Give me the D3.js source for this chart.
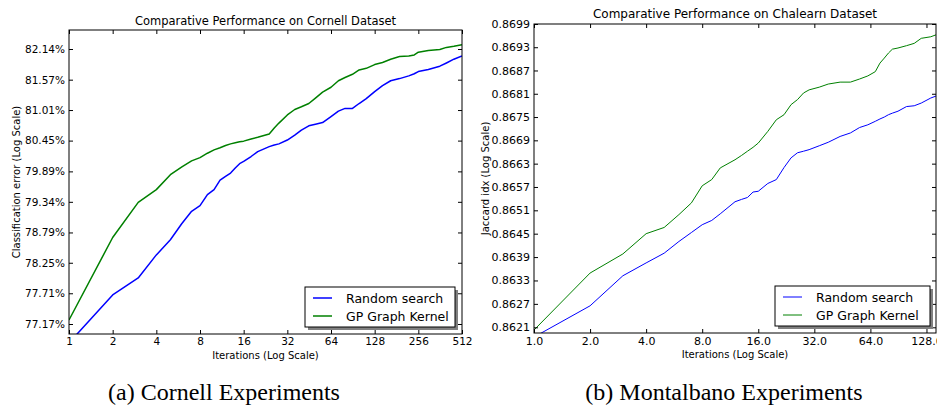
<!DOCTYPE html>
<html>
<head>
<meta charset="utf-8">
<script src="https://cdn.jsdelivr.net/npm/d3@7"></script>
<style>
body { margin: 0; background: #fff; }
svg text { font-family: "DejaVu Sans", sans-serif; fill: #000; }
.caption { font-family: "Liberation Serif", serif; }
</style>
</head>
<body>
<svg id="chart" width="937" height="406"></svg>
<script>
// ---- Cornell panel data (iterations, classification error %) ----
const cornellIters = [1, 2, 3, 4, 5, 6, 7, 8, 9, 10, 11, 12, 13, 14, 15, 16, 18, 20, 24, 26, 28, 32, 36, 40, 45, 50, 56, 64, 72, 80, 90, 100, 112, 128, 145, 165, 190, 220, 240, 256, 300, 360, 400, 450, 512];
const cornellRandom = [76.84, 77.68, 77.98, 78.39, 78.66, 78.95, 79.17, 79.27, 79.47, 79.56, 79.73, 79.80, 79.86, 79.95, 80.03, 80.07, 80.16, 80.25, 80.34, 80.37, 80.39, 80.46, 80.55, 80.64, 80.72, 80.75, 80.78, 80.89, 80.99, 81.04, 81.04, 81.13, 81.22, 81.35, 81.46, 81.55, 81.59, 81.64, 81.68, 81.72, 81.76, 81.82, 81.88, 81.95, 82.01];
const cornellGP = [77.24, 78.70, 79.33, 79.56, 79.83, 79.97, 80.08, 80.14, 80.22, 80.28, 80.32, 80.36, 80.39, 80.41, 80.43, 80.44, 80.48, 80.51, 80.57, 80.68, 80.77, 80.92, 81.02, 81.07, 81.13, 81.23, 81.34, 81.43, 81.55, 81.61, 81.67, 81.75, 81.78, 81.85, 81.89, 81.95, 82.00, 82.01, 82.03, 82.08, 82.11, 82.13, 82.17, 82.19, 82.22];
const cornellYTicks = [77.17, 77.71, 78.25, 78.79, 79.34, 79.89, 80.45, 81.01, 81.57, 82.14];
const cornellXTicks = [1, 2, 4, 8, 16, 32, 64, 128, 256, 512];

// ---- Chalearn panel data (iterations, Jaccard index) ----
const chalearnIters = [1, 2, 3, 4, 5, 6, 7, 8, 9, 10, 12, 13, 14, 15, 16, 18, 20, 22, 24, 26, 28, 30, 34, 38, 44, 50, 56, 62, 68, 72, 76, 80, 84, 90, 100, 110, 120, 135, 144];
const chalearnRandom = [0.86185, 0.86265, 0.86342, 0.86375, 0.86400, 0.86430, 0.86453, 0.86473, 0.86484, 0.86501, 0.86532, 0.86538, 0.86543, 0.86557, 0.86559, 0.86579, 0.86589, 0.86620, 0.86645, 0.86658, 0.86662, 0.86666, 0.86676, 0.86685, 0.86700, 0.86709, 0.86723, 0.86730, 0.86739, 0.86745, 0.86750, 0.86756, 0.86760, 0.86765, 0.86777, 0.86779, 0.86786, 0.86799, 0.86804];
const chalearnGP = [0.86203, 0.86349, 0.86398, 0.86450, 0.86466, 0.86499, 0.86529, 0.86573, 0.86589, 0.86619, 0.86640, 0.86651, 0.86662, 0.86672, 0.86683, 0.86713, 0.86743, 0.86756, 0.86782, 0.86795, 0.86812, 0.86820, 0.86827, 0.86835, 0.86840, 0.86840, 0.86848, 0.86856, 0.86867, 0.86889, 0.86902, 0.86915, 0.86925, 0.86928, 0.86934, 0.86940, 0.86953, 0.86957, 0.86962];
const chalearnYTicks = [0.8621, 0.8627, 0.8633, 0.8639, 0.8645, 0.8651, 0.8657, 0.8663, 0.8669, 0.8675, 0.8681, 0.8687, 0.8693, 0.8699];
const chalearnXTicks = [1, 2, 4, 8, 16, 32, 64, 128];

const seriesNames = ['Random search', 'GP Graph Kernel'];
const seriesColors = ['#0000ff', '#008000'];

const svg = d3.select('#chart');

// draws one subplot
function drawPanel(o) {
    const g = svg.append('g');

    const x = d3.scaleLog().base(2).domain(o.xDomain).range([o.left, o.right]);
    const y = d3.scaleLog().domain(o.yDomain).range(o.yRange);

    const clipId = 'clip-' + o.id;
    svg.append('clipPath').attr('id', clipId)
        .append('rect')
        .attr('x', o.left).attr('y', o.top)
        .attr('width', o.right - o.left).attr('height', o.bottom - o.top);

    // lines
    const line = d3.line()
        .x((d, i) => x(o.iters[i]))
        .y(d => y(d));

    o.series.forEach((s, i) => {
        g.append('path')
            .datum(s)
            .attr('clip-path', `url(#${clipId})`)
            .attr('fill', 'none')
            .attr('stroke', seriesColors[i])
            .attr('stroke-width', o.lineWidth)
            .attr('stroke-linejoin', 'round')
            .attr('d', line);
    });

    // axes with inward ticks on all four sides
    const bottomAxis = d3.axisBottom(x).tickValues(o.xTicks)
        .tickFormat(o.xFormat).tickSizeInner(-4).tickSizeOuter(0).tickPadding(4);
    const topAxis = d3.axisTop(x).tickValues(o.xTicks)
        .tickFormat('').tickSizeInner(-4).tickSizeOuter(0);
    const leftAxis = d3.axisLeft(y).tickValues(o.yTicks)
        .tickFormat(o.yFormat).tickSizeInner(-4).tickSizeOuter(0).tickPadding(4);
    const rightAxis = d3.axisRight(y).tickValues(o.yTicks)
        .tickFormat('').tickSizeInner(-4).tickSizeOuter(0);

    const axes = [
        [bottomAxis, `translate(0,${o.bottom})`],
        [topAxis, `translate(0,${o.top})`],
        [leftAxis, `translate(${o.left},0)`],
        [rightAxis, `translate(${o.right},0)`]
    ];
    axes.forEach(([ax, tr]) => {
        const a = g.append('g').attr('transform', tr).call(ax);
        a.select('.domain').remove();
        a.selectAll('line').attr('stroke', '#000');
        a.selectAll('text').attr('font-family', '"DejaVu Sans", sans-serif')
            .attr('font-size', o.tickFont).attr('fill', '#000');
    });

    // frame
    g.append('rect')
        .attr('x', o.left).attr('y', o.top)
        .attr('width', o.right - o.left).attr('height', o.bottom - o.top)
        .attr('fill', 'none').attr('stroke', '#000').attr('stroke-width', 1);

    // title and axis labels
    g.append('text')
        .attr('x', (o.left + o.right) / 2).attr('y', o.titleY)
        .attr('text-anchor', 'middle').attr('font-size', o.titleFont)
        .text(o.title);

    g.append('text')
        .attr('x', (o.left + o.right) / 2).attr('y', o.bottom + 25)
        .attr('text-anchor', 'middle').attr('font-size', 10)
        .text('Iterations (Log Scale)');

    g.append('text')
        .attr('transform', `translate(${o.ylabelX},${(o.top + o.bottom) / 2}) rotate(-90)`)
        .attr('text-anchor', 'middle').attr('font-size', 10)
        .text(o.ylabel);

    // legend with shadow
    const lg = g.append('g').attr('transform', `translate(${o.legend[0]},${o.legend[1]})`);
    lg.append('rect').attr('x', 3).attr('y', 3).attr('width', o.legendW).attr('height', 40)
        .attr('fill', '#808080');
    lg.append('rect').attr('x', 0).attr('y', 0).attr('width', o.legendW).attr('height', 40)
        .attr('fill', '#fff').attr('stroke', '#000').attr('stroke-width', 1);
    seriesNames.forEach((name, i) => {
        const ry = 11 + i * 18;
        lg.append('line').attr('x1', 8).attr('x2', 27).attr('y1', ry).attr('y2', ry)
            .attr('stroke', seriesColors[i]).attr('stroke-width', o.lineWidth);
        lg.append('text').attr('x', 41).attr('y', ry + 4.5)
            .attr('font-size', 12.5).text(name);
    });

    // caption below the subplot
    svg.append('text').attr('class', 'caption')
        .attr('x', o.captionX).attr('y', 400)
        .attr('text-anchor', 'middle').attr('font-size', 24)
        .text(o.caption);
}

drawPanel({
    id: 'cornell',
    left: 69, right: 462, top: 30, bottom: 334,
    xDomain: [1, 512],
    yDomain: [cornellYTicks[0], cornellYTicks[cornellYTicks.length - 1]],
    yRange: [324, 49],
    iters: cornellIters,
    series: [cornellRandom, cornellGP],
    xTicks: cornellXTicks, xFormat: d3.format('d'),
    yTicks: cornellYTicks, yFormat: d => d.toFixed(2) + '%',
    lineWidth: 1.5, tickFont: 10.5, titleFont: 11.5, titleY: 25,
    title: 'Comparative Performance on Cornell Dataset',
    ylabel: 'Classification error (Log Scale)', ylabelX: 20,
    legend: [305, 287], legendW: 150,
    caption: '(a) Cornell Experiments', captionX: 224
});

drawPanel({
    id: 'chalearn',
    left: 534, right: 936, top: 24, bottom: 333,
    xDomain: [1, 144],
    yDomain: [chalearnYTicks[0], chalearnYTicks[chalearnYTicks.length - 1]],
    yRange: [327.3, 24],
    iters: chalearnIters,
    series: [chalearnRandom, chalearnGP],
    xTicks: chalearnXTicks, xFormat: d3.format('.1f'),
    yTicks: chalearnYTicks, yFormat: d3.format('.4f'),
    lineWidth: 1, tickFont: 11, titleFont: 12, titleY: 18,
    title: 'Comparative Performance on Chalearn Dataset',
    ylabel: 'Jaccard idx (Log Scale)', ylabelX: 489,
    legend: [775, 286], legendW: 155,
    caption: '(b) Montalbano Experiments', captionX: 724
});
</script>
</body>
</html>
